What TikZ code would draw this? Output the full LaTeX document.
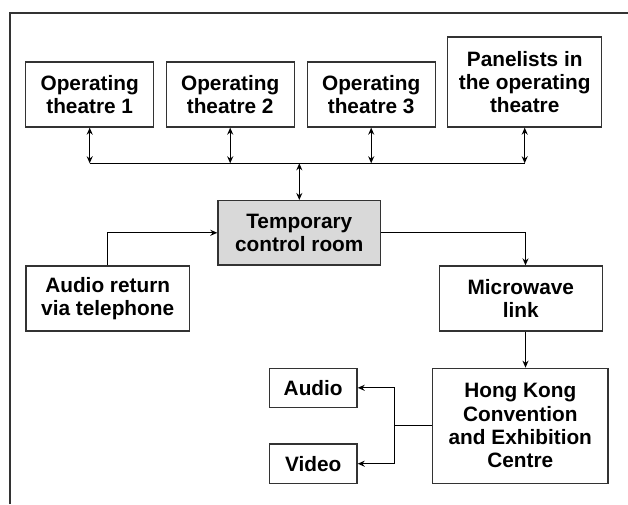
\documentclass[tikz,border=0pt]{standalone}
\usepackage{fontspec}
\setmainfont{Liberation Sans}
\usetikzlibrary{arrows.meta,calc}
\definecolor{boxgray}{HTML}{D9D9D9}
\definecolor{linegray}{HTML}{333333}
\begin{document}
\begin{tikzpicture}[x=1pt,y=-1pt,
  box/.style={draw=linegray,line width=1.3pt,fill=white,align=center,inner sep=0pt,
    font=\fontsize{20.8}{23.3}\selectfont\bfseries},
  conn/.style={draw=black,line width=1.2pt},
  arr/.style={conn,-{Stealth[length=7pt,width=6pt]}},
  darr/.style={conn,{Stealth[length=7pt,width=6pt]}-{Stealth[length=7pt,width=6pt]}}]
\useasboundingbox (0,0) rectangle (628,504);
\draw[draw=linegray,line width=1.6pt] (10,504) -- (10,13) -- (628,13);
\node[box,minimum width=128pt,minimum height=65pt] (ot1) at (89.7,94.5) {Operating\\theatre 1};
\node[box,minimum width=128pt,minimum height=65pt] (ot2) at (230.2,94.5) {Operating\\theatre 2};
\node[box,minimum width=128pt,minimum height=65pt] (ot3) at (371.2,94.5) {Operating\\theatre 3};
\node[box,minimum width=154pt,minimum height=90pt] (pan) at (524.7,82) {Panelists in\\the operating\\theatre};
\node[box,fill=boxgray,minimum width=162.7pt,minimum height=64.3pt] (ctrl) at (299.3,232.8) {Temporary\\control room};
\node[box,minimum width=163.3pt,minimum height=65pt] (ar) at (107.7,298.5) {Audio return\\via telephone};
\node[box,minimum width=163pt,minimum height=65pt] (mw) at (520.8,298.5) {Microwave\\link};
\node[box,minimum width=175.3pt,minimum height=115pt] (hk) at (520.3,425.8) {Hong Kong\\Convention\\and Exhibition\\Centre};
\node[box,minimum width=87.7pt,minimum height=39pt] (audio) at (313.2,387.8) {Audio};
\node[box,minimum width=87.7pt,minimum height=39.3pt] (video) at (313.2,463.7) {Video};
\coordinate (bus) at (0,163.3);
\coordinate (mx) at (525.5,0);
\coordinate (j) at (394.3,0);
\draw[conn] (ot1.south |- bus) -- (pan.south |- bus);
\draw[darr] (ot1.south) -- (ot1.south |- bus);
\draw[darr] (ot2.south) -- (ot2.south |- bus);
\draw[darr] (ot3.south) -- (ot3.south |- bus);
\draw[darr] (pan.south) -- (pan.south |- bus);
\draw[darr] (ctrl.north |- bus) -- (ctrl.north);
\draw[arr] (ar.north) |- (ctrl.west);
\draw[arr] (ctrl.east) -| (mx |- mw.north);
\draw[arr] (mx |- mw.south) -- (mx |- hk.north);
\draw[conn] (hk.west) -- (j |- hk.west);
\draw[arr] (j |- hk.west) |- (audio.east);
\draw[arr] (j |- hk.west) |- (video.east);
\end{tikzpicture}
\end{document}
